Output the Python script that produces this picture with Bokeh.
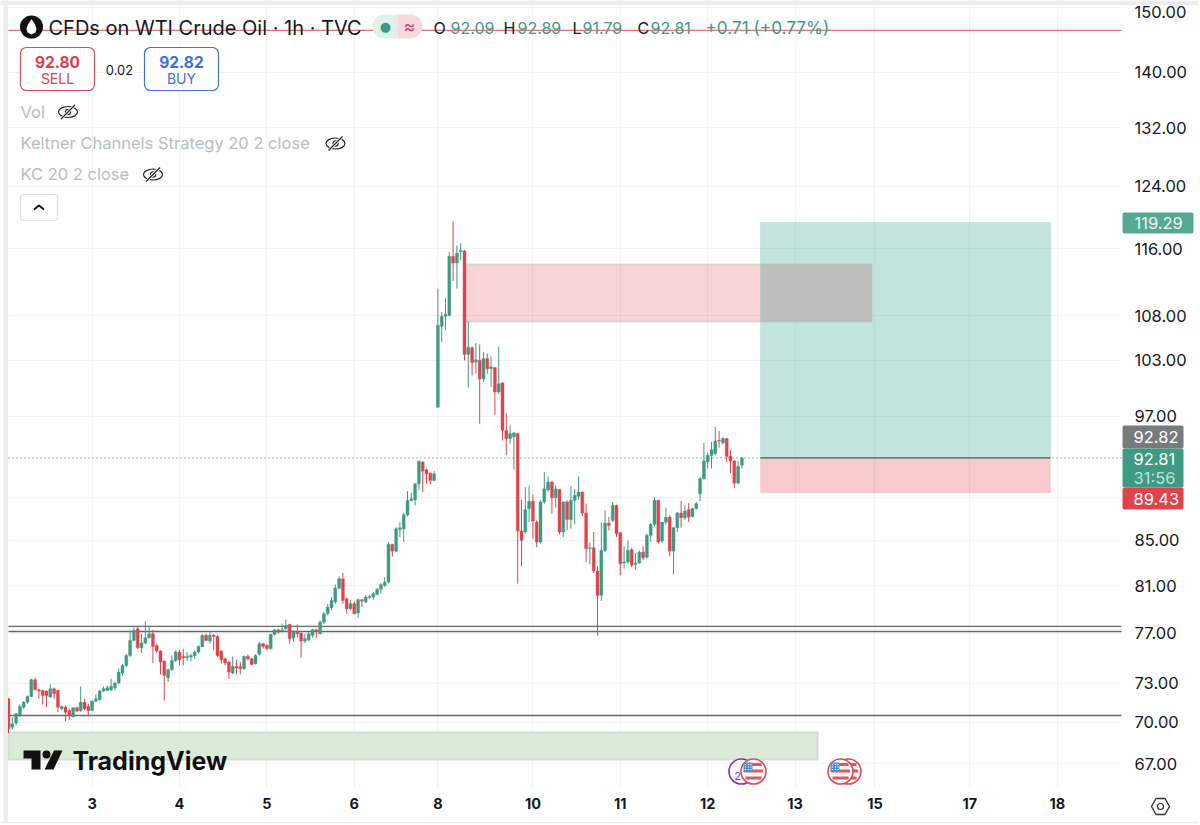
from bokeh.plotting import figure
from bokeh.embed import file_html
from bokeh.resources import INLINE
from bokeh.models import (ColumnDataSource, FixedTicker, PrintfTickFormatter, Range1d, LinearScale,
                          Label, BoxAnnotation)

# ---------- data ----------
opens = [71.79,69.65,69.95,70.53,71.15,71.53,71.97,73.26,72.48,72.43,
 72.38,71.92,72.56,72.43,71.03,71.15,70.90,70.45,71.10,70.90,
 71.53,71.20,70.90,71.61,71.71,72.38,72.43,72.48,72.64,73.00,
 73.78,74.39,75.18,76.40,77.35,75.81,76.18,76.62,76.94,75.99,
 75.54,74.73,73.42,74.05,74.78,75.45,75.10,75.00,75.05,75.18,
 75.45,75.91,76.81,76.35,76.81,76.72,75.54,74.91,74.65,73.78,
 74.31,74.31,74.13,75.10,74.91,74.52,75.27,76.13,75.99,75.73,
 76.89,77.26,77.16,77.35,77.71,76.62,77.08,77.00,76.35,76.45,
 76.81,77.26,76.94,77.90,78.60,79.10,
 79.59,80.78,81.58,79.87,79.02,79.45,78.66,79.79,79.59,79.96,80.02,80.24,80.67,81.01,81.30,84.63,84.03,86.00,86.05,87.34,88.69,88.75,90.28,92.39,91.64,91.31,90.60,
 97.97,106.79,107.93,108.04,115.06,114.25,115.59,115.71,103.64,104.37,102.80,102.98,100.98,103.17,102.07,102.19,99.57,100.52,
 95.58,94.74,94.91,95.24,85.85,85.76,87.92,88.61,86.67,84.85,
 88.55,89.70,90.45,88.95,89.74,85.76,88.55,86.91,88.70,89.08,
 89.49,87.51,84.28,84.33,82.27,80.16,84.09,86.58,86.82,88.23,
 85.70,82.97,83.06,84.15,82.85,82.97,83.94,83.50,85.45,86.46,
 88.70,84.94,86.67,87.13,84.03,86.15,87.51,87.07,87.83,87.20,
 87.92,89.33,90.77,92.40,93.06,93.22,94.57,94.30,94.74,92.96,
 92.50,90.35,92.09]
highs = [71.85,70.40,70.70,71.35,71.61,72.04,73.34,73.42,72.56,72.48,
 72.43,72.90,72.64,72.48,71.28,71.28,71.03,71.15,71.20,72.74,
 71.79,71.41,71.66,72.12,72.48,72.74,72.82,73.34,73.08,74.13,
 74.52,75.32,77.21,77.49,77.49,76.94,77.98,77.54,77.26,76.13,
 75.59,74.78,74.13,75.18,75.59,75.64,75.72,75.45,75.32,75.59,
 75.99,76.89,76.94,77.16,76.94,76.81,75.59,75.00,74.78,75.10,
 74.84,74.65,75.18,75.27,75.00,75.27,76.27,76.18,76.08,76.94,
 77.35,77.35,77.76,78.10,77.76,77.21,77.71,77.05,76.94,77.08,
 77.35,77.35,78.04,78.74,79.44,80.00,
 81.10,81.79,82.09,79.96,79.79,79.65,79.87,79.85,80.16,80.16,80.44,80.81,81.21,81.73,84.84,84.69,86.20,86.66,87.50,89.58,89.42,90.34,92.55,92.49,91.74,91.38,91.51,
 111.16,108.42,110.00,115.59,119.39,116.40,116.68,115.87,107.36,104.51,104.89,104.74,103.90,103.72,103.42,102.26,104.51,100.63,
 97.35,96.08,95.41,95.31,88.77,89.96,90.12,89.27,86.82,88.70,
 91.43,91.00,90.55,90.12,89.80,88.61,88.70,90.06,89.80,91.00,
 89.55,88.39,84.85,85.76,82.68,86.67,87.76,87.13,88.55,88.29,
 85.76,84.46,85.00,84.33,83.85,84.09,84.46,85.61,86.58,88.95,
 88.77,86.67,88.01,87.29,86.21,87.60,88.64,88.23,88.45,88.01,
 88.55,90.94,94.30,93.29,94.40,95.91,95.52,94.91,94.81,93.56,
 92.57,92.50,92.89]
lows = [69.21,69.45,69.78,70.40,71.03,71.41,71.92,72.43,71.79,71.35,
 71.15,71.87,71.79,70.77,70.90,70.10,70.20,70.35,70.77,70.77,
 70.90,70.45,70.85,71.53,71.66,72.30,72.38,72.38,72.43,72.95,
 73.60,74.26,75.05,76.35,75.70,75.37,76.08,76.54,74.57,75.37,
 73.68,71.66,73.08,73.95,74.65,74.39,74.39,74.73,74.73,74.91,
 75.32,75.86,76.35,76.13,75.59,75.05,74.52,74.39,73.34,73.68,
 73.68,73.68,74.05,74.78,74.39,74.47,75.18,75.73,75.59,75.65,
 76.81,76.94,77.05,77.21,76.13,76.27,76.62,75.00,76.18,76.35,
 76.62,76.62,76.89,77.76,78.46,78.88,
 79.45,80.67,79.45,78.60,78.88,78.55,78.27,79.16,79.50,79.87,79.79,80.16,80.30,80.87,81.21,83.55,83.94,85.30,84.84,87.19,88.60,88.22,89.64,89.48,90.28,90.22,90.54,
 97.90,105.00,106.33,107.93,112.07,111.16,114.57,102.98,100.03,101.34,101.53,96.26,100.63,101.53,100.10,97.21,99.32,94.56,
 93.06,94.23,91.66,81.16,82.68,85.61,86.67,85.15,84.40,84.70,
 88.39,89.49,87.45,88.01,85.55,85.30,85.91,86.06,86.46,88.77,
 87.20,83.06,82.85,82.10,76.80,79.68,83.94,85.91,86.67,85.30,
 81.89,82.48,82.91,82.62,82.39,82.91,83.21,83.35,84.85,86.27,
 84.70,84.76,86.46,83.56,81.98,85.76,86.15,86.88,86.67,87.07,
 87.83,88.64,90.67,91.75,91.75,93.15,93.83,94.16,92.41,91.33,
 89.86,90.22,91.79]
closes = [69.53,69.90,70.65,71.20,71.53,71.97,73.26,72.48,72.38,72.04,
 72.04,72.56,72.17,71.15,71.20,70.77,70.53,71.10,70.85,71.53,
 71.03,70.90,71.61,71.79,72.38,72.56,72.64,72.74,73.00,73.86,
 74.39,75.18,76.40,77.21,75.81,76.18,76.62,76.94,75.91,75.54,
 74.65,73.60,74.05,74.78,75.45,74.84,75.00,75.10,75.18,75.45,
 75.91,76.81,76.40,76.81,76.72,75.18,74.84,74.57,73.86,74.31,
 74.18,74.13,75.10,74.91,74.47,75.18,76.13,75.91,75.73,76.89,
 77.26,77.08,77.26,77.63,76.54,77.08,76.94,76.35,76.54,76.94,
 77.26,77.16,77.90,78.60,79.16,79.72,
 80.78,81.58,79.73,79.02,79.45,78.60,79.79,79.67,80.02,80.07,80.30,80.67,81.07,81.30,84.63,84.03,86.05,86.14,87.34,88.69,88.85,90.28,92.49,91.51,91.25,90.60,91.25,
 106.90,107.93,108.15,115.06,114.25,115.46,115.79,103.64,104.44,102.73,103.05,100.98,103.17,102.07,102.26,99.57,100.45,95.58,
 94.74,95.24,95.31,85.85,85.00,87.83,88.61,86.76,84.85,88.55,
 89.80,90.45,88.95,89.80,85.76,88.55,86.91,88.70,89.17,89.49,
 87.51,84.24,84.33,82.27,80.16,84.09,86.58,86.36,88.23,85.61,
 82.91,83.06,84.09,82.76,82.97,83.94,83.44,85.45,86.46,88.70,
 84.85,86.67,87.13,84.03,86.15,87.51,87.07,87.70,87.13,87.92,
 88.39,90.77,92.50,93.06,93.62,94.50,94.50,94.74,92.96,92.50,
 90.35,91.97,92.81]

x_tick_bars = [22, 45, 68, 91, 113, 138, 161, 184, 207, 228, 253, 276]
x_tick_labels = ["3", "4", "5", "6", "8", "10", "11", "12", "13", "15", "17", "18"]
price_ticks = [150, 140, 132, 124, 116, 108, 103, 97, 85, 81, 77, 73, 70, 67]
grid_prices = price_ticks + [89]

supply_zone = dict(left=120.3, right=227.1, top=114.06, bottom=107.34)
demand_zone = dict(left=0, right=212.9, top=69.26, bottom=67.29)
position = dict(left=197.9, right=274.2, target=119.29, entry=92.82, stop=89.43)
level_prices = [77.55, 77.13, 70.52]
alert_price = 146.4
last_price = 92.81
pane_end_bar = 292.9

GREEN = "#3d9a83"
RED = "#e1434e"
INK = "#131722"

# ---------- figure ----------
src = ColumnDataSource(dict(
    i=list(range(len(closes))),
    o=opens, h=highs, l=lows, c=closes,
    top=[max(a, b) for a, b in zip(opens, closes)],
    bot=[min(a, b) for a, b in zip(opens, closes)],
    col=[GREEN if c >= o else RED for o, c in zip(opens, closes)],
))

p = figure(width=1200, height=825, frame_width=1198, frame_height=823,
           output_backend="svg", toolbar_location=None,
           x_range=Range1d(-8 / 3.8, 1190 / 3.8), y_range=Range1d(62.85, 151.14),
           y_axis_type="log", y_axis_location="right",
           min_border_left=0, min_border_top=0, min_border_right=2, min_border_bottom=2,
           outline_line_color=None, background_fill_color="white", border_fill_color="white")

# decoration layer in page pixels
p.extra_x_ranges["px"] = Range1d(0, 1198)
p.extra_y_ranges["px"] = Range1d(823, 0)
p.extra_x_scales["px"] = LinearScale()
p.extra_y_scales["px"] = LinearScale()
PX = dict(x_range_name="px", y_range_name="px")

p.yaxis.ticker = FixedTicker(ticks=price_ticks)
p.yaxis.formatter = PrintfTickFormatter(format="%.2f")
p.yaxis.major_label_overrides = {150: " "}
p.xaxis.ticker = FixedTicker(ticks=x_tick_bars)
p.xaxis.major_label_overrides = dict(zip(x_tick_bars, x_tick_labels))
for ax in (p.xaxis[0], p.yaxis[0]):
    ax.axis_line_color = None
    ax.major_tick_line_color = None
    ax.minor_tick_line_color = None
    ax.major_tick_out = 0
    ax.major_tick_in = 0
    ax.major_label_text_color = INK
    ax.major_label_text_font = "Inter"
p.yaxis.major_label_text_font_size = "16.5px"
p.yaxis.major_label_standoff = -64
p.xaxis.major_label_text_font_size = "14.5px"
p.xaxis.major_label_text_font_style = "bold"
p.xaxis.major_label_standoff = -26

p.xgrid.grid_line_color = "#f0f2f3"
p.ygrid.grid_line_color = "#f0f2f3"
p.ygrid[0].ticker = FixedTicker(ticks=grid_prices)
p.xgrid.grid_line_width = 1
p.ygrid.grid_line_width = 1

# the grid belongs to the price pane only: mask the scale areas
p.quad(left=[1121, 0, 0], right=[1198, 1198, 8], top=[0, 787, 0], bottom=[823, 823, 823],
       fill_color="white", line_color=None, **PX)

# zones
p.quad(left=position["left"], right=position["right"], top=position["target"], bottom=position["entry"],
       fill_color="#3ca88e", fill_alpha=0.31, line_color="#3d9f88", line_alpha=0.15)
p.quad(left=position["left"], right=position["right"], top=position["entry"], bottom=position["stop"],
       fill_color=RED, fill_alpha=0.28, line_color=RED, line_alpha=0.1)
p.quad(left=supply_zone["left"], right=position["left"], top=supply_zone["top"], bottom=supply_zone["bottom"],
       fill_color=RED, fill_alpha=0.23, line_color=None)
p.quad(left=position["left"], right=supply_zone["right"], top=supply_zone["top"], bottom=supply_zone["bottom"],
       fill_color="#bcbebb", fill_alpha=0.95, line_color=None)
for yv in (supply_zone["top"], supply_zone["bottom"]):
    p.segment(x0=supply_zone["left"], x1=supply_zone["right"], y0=yv, y1=yv,
              line_color="#aaaaaa", line_alpha=0.35, line_width=2)
p.segment(x0=supply_zone["right"], x1=supply_zone["right"], y0=supply_zone["bottom"], y1=supply_zone["top"],
          line_color="#aaaaaa", line_alpha=0.35, line_width=2)
p.quad(left=demand_zone["left"], right=demand_zone["right"], top=demand_zone["top"], bottom=demand_zone["bottom"],
       fill_color="#dcebd8", line_color="#d6d9d6", line_width=2)

# levels
for lv in level_prices:
    p.segment(x0=0, x1=pane_end_bar, y0=lv, y1=lv, line_color="#666a6c", line_width=1.4)
p.segment(x0=0, x1=pane_end_bar, y0=alert_price, y1=alert_price, line_color="#dd5a64", line_width=1.2, line_alpha=0.85)
p.line(x=[0, pane_end_bar], y=[last_price, last_price], line_color=GREEN, line_width=1.2, line_dash=[1, 3])
p.segment(x0=position["left"], x1=position["right"], y0=position["entry"], y1=position["entry"],
          line_color="#6f7f7a", line_width=1.8)

# candles
p.segment(x0="i", x1="i", y0="h", y1="l", color="col", line_width=1.0, source=src)
p.vbar(x="i", width=0.78, top="top", bottom="bot", fill_color="col", line_color="col", line_width=0.4, source=src)


# ---------- helpers ----------
def txt(x, y, s, size=15, color=INK, align="left", style="normal", font="Inter"):
    p.add_layout(Label(x=x, y=y, text=s, text_font=font, text_font_size=f"{size}px", text_color=color,
                       text_align=align, text_baseline="middle", text_font_style=style, **PX))


def box(l, r, t, b, fill=None, line=None, radius=0, lw=1.2):
    p.add_layout(BoxAnnotation(left=l, right=r, top=t, bottom=b, fill_color=fill or "white",
                               fill_alpha=1 if fill else 0, line_color=line or "white",
                               line_alpha=1 if line else 0, line_width=lw, border_radius=radius, **PX))


def eye(cx, cy):
    p.ellipse(x=cx, y=cy, width=19, height=11, fill_color=None, line_color="#222", line_width=1.2, **PX)
    p.circle(x=cx, y=cy, radius=2.6, fill_color=None, line_color="#222", line_width=1.2, **PX)
    p.segment(x0=cx - 7, y0=cy + 7, x1=cx + 7, y1=cy - 7, line_color="white", line_width=3, **PX)
    p.segment(x0=cx - 7, y0=cy + 7, x1=cx + 7, y1=cy - 7, line_color="#222", line_width=1.2, **PX)


def flag(cx, cy):
    p.circle(x=cx, y=cy, radius=12.5, fill_color="white", line_color="#e04a50", line_width=1.6, **PX)
    p.quad(left=cx - 9, right=cx + 9.5, top=cy - 2, bottom=cy + 1, fill_color="#e2555a", line_color=None, **PX)
    p.quad(left=cx - 8, right=cx + 8, top=cy + 5, bottom=cy + 8, fill_color="#e2555a", line_color=None, **PX)
    p.quad(left=cx - 3, right=cx + 8, top=cy - 8.5, bottom=cy - 5.5, fill_color="#e2555a", line_color=None, **PX)
    p.quad(left=cx - 10, right=cx - 1, top=cy - 9, bottom=cy + 0.5, fill_color="#4a90d9", line_color=None, **PX)
    for dx in (-8, -5, -2.5):
        for dy in (-7, -4.5, -2):
            p.rect(x=cx + dx, y=cy + dy, width=1.2, height=1.2, fill_color="white", line_color=None, **PX)


# ---------- screenshot frame ----------
box(0, 1198, 0, 4.5, fill="#ececec")
box(3, 7.5, 0, 823, fill="#ececec")
box(0, 1198, 821.5, 823, fill="#ececec")

# ---------- price labels ----------
txt(1134, 11, "150.00", 16.5)
box(1122, 1193, 212, 233, fill="#55a993", radius=2)
txt(1134, 222.5, "119.29", 16.5, "#eaf7f3")
box(1122, 1183, 425, 448, fill="#787b7e", radius=2)
txt(1133, 436, "92.82", 16.5, "white")
box(1122, 1183, 448, 487, fill=GREEN, radius=2)
txt(1133, 458, "92.81", 16.5, "white")
txt(1133, 477, "31:56", 16.5, "#bfe3d9")
box(1122, 1183, 487, 509, fill=RED, radius=2)
txt(1133, 498, "89.43", 16.5, "white")

# ---------- header ----------
p.circle(x=31, y=26.5, radius=11.5, fill_color="#111", line_color=None, **PX)
p.patch(x=[31, 27.5, 26, 27, 31, 35, 36, 34.5], y=[18.5, 24, 28, 32, 34, 32, 28, 24],
        fill_color="white", line_color=None, **PX)
txt(48, 27, "CFDs on WTI Crude Oil · 1h · TVC", 20)

box(372, 397, 14, 38, fill="#e3f1ed", radius=(12, 0, 0, 12))
box(397, 422, 14, 38, fill="#f8d8de", radius=(0, 12, 12, 0))
txt(385, 26, "●", 13, GREEN, "center", font="DejaVu Sans")
txt(409, 26, "≈", 18, "#d93a66", "center")

for x, s, col, sz in [(433, "O", INK, 16), (450, "92.09", GREEN, 16), (503, "H", INK, 16), (517, "92.89", GREEN, 16),
                      (572, "L", INK, 16), (582, "91.79", GREEN, 16), (637, "C", INK, 16), (650, "92.81", GREEN, 16),
                      (705, "+0.71 (+0.77%)", GREEN, 17.2)]:
    txt(x, 27, s, sz, col)

box(20, 94, 47, 90, fill="white", line="#d9505a", radius=6)
txt(57, 61, "92.80", 15.5, "#d9404b", "center", "bold")
txt(57, 78, "SELL", 14, "#d9404b", "center")
txt(119, 69, "0.02", 13, INK, "center")
box(144, 218, 47, 90, fill="white", line="#3f6fe0", radius=6)
txt(181, 61, "92.82", 15.5, "#3f6fe0", "center", "bold")
txt(181, 78, "BUY", 14, "#3f6fe0", "center")

LEGEND = "#b9bcc0"
txt(20, 111.5, "Vol", 16.5, LEGEND)
txt(20, 142.5, "Keltner Channels Strategy 20 2 close", 16.5, LEGEND)
txt(20, 173.5, "KC 20 2 close", 16.5, LEGEND)
eye(67.5, 111.5)
eye(335, 143)
eye(152.5, 174)
box(20, 57, 194, 220, line="#dcdee0", radius=3)
p.line(x=[33.5, 38.5, 43.5], y=[209, 205, 209], line_color="#111", line_width=1.8, **PX)

# ---------- TradingView watermark ----------
p.patch(x=[23, 40, 40, 31, 31, 23], y=[750, 750, 769, 769, 758, 758], fill_color="#111", line_color=None, **PX)
p.circle(x=46, y=754, radius=4, fill_color="#111", line_color=None, **PX)
p.patch(x=[53.5, 62, 53, 44], y=[750, 750, 769, 769], fill_color="#111", line_color=None, **PX)
txt(72, 760, "TradingView", 25, "#111", style="bold")

# ---------- events ----------
p.circle(x=741, y=771, radius=12.5, fill_color="white", line_color="#8e2cb5", line_width=1.6, **PX)
txt(737, 775, "2", 11, "#8e2cb5", "center")
flag(753, 771)
flag(848, 771)
flag(840, 771)

# ---------- settings icon ----------
p.patch(x=[1151, 1155.5, 1164.5, 1169, 1164.5, 1155.5], y=[806, 798, 798, 806, 814, 814],
        fill_color=None, line_color="#333", line_width=1.4, **PX)
p.circle(x=1160, y=806, radius=3, fill_color=None, line_color="#333", line_width=1.2, **PX)

open("out.html", "w").write(file_html(p, INLINE))
